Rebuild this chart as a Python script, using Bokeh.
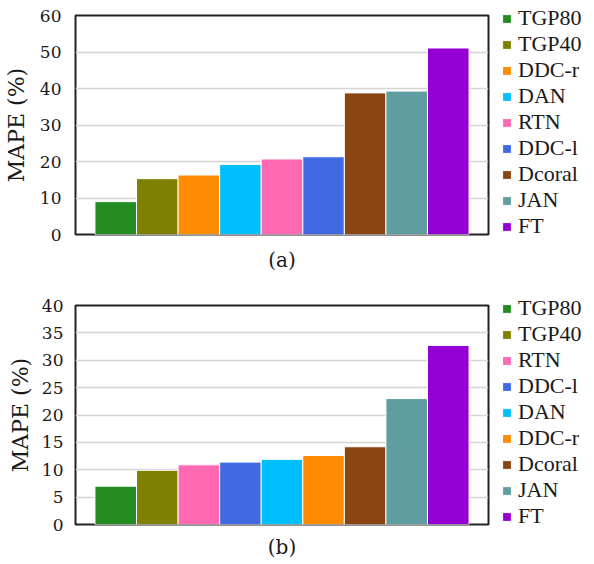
from bokeh.plotting import figure
from bokeh.models import (Range1d, FactorRange, SingleIntervalTicker, Legend, LegendItem,
                          Title, ColumnDataSource)
from bokeh.layouts import column
from bokeh.embed import file_html
from bokeh.resources import INLINE

# ---- data ----
methods_a = ["TGP80", "TGP40", "DDC-r", "DAN", "RTN", "DDC-l", "Dcoral", "JAN", "FT"]
mape_a = [9.0, 15.3, 16.3, 19.2, 20.7, 21.3, 38.8, 39.3, 51.1]

methods_b = ["TGP80", "TGP40", "RTN", "DDC-l", "DAN", "DDC-r", "Dcoral", "JAN", "FT"]
mape_b = [7.0, 9.9, 10.9, 11.4, 11.9, 12.6, 14.2, 23.0, 32.7]

method_colors = {
    "TGP80": "#228B22", "TGP40": "#808000", "DDC-r": "#FF8C00", "DAN": "#00BFFF",
    "RTN": "#FF69B4", "DDC-l": "#4169E1", "Dcoral": "#8B4513", "JAN": "#5F9EA0",
    "FT": "#9400D3",
}

FONT = "DejaVu Serif"
LEG_FONT = "serif"
TXT = "#1a1a1a"
W = 594


def make_panel(methods, values, ymax, yint, caption, border_left, border_top, height,
               label_standoff, cap_standoff, frame_w=413, frame_h=219):
    p = figure(frame_width=frame_w, frame_height=frame_h,
               output_backend="svg", toolbar_location=None,
               x_range=FactorRange(*methods, range_padding=0.468, range_padding_units="absolute"),
               y_range=Range1d(0, ymax), x_axis_location=None,
               min_border_left=border_left, min_border_top=border_top,
               min_border_right=W - border_left - frame_w,
               min_border_bottom=height - border_top - frame_h)
    p.outline_line_color = "#222222"
    p.outline_line_width = 2
    p.background_fill_color = "white"
    p.border_fill_color = "white"
    p.xgrid.grid_line_color = None
    p.ygrid.grid_line_color = "#d4d4d4"
    p.ygrid.grid_line_width = 1.3

    ax = p.yaxis[0]
    ax.ticker = SingleIntervalTicker(interval=yint)
    ax.axis_line_color = None
    ax.major_tick_line_color = None
    ax.minor_tick_line_color = None
    ax.major_label_standoff = label_standoff
    ax.major_label_text_font = FONT
    ax.major_label_text_font_size = "17px"
    ax.major_label_text_color = TXT
    ax.axis_label = "MAPE (%)"
    ax.axis_label_text_font = FONT
    ax.axis_label_text_font_size = "22px"
    ax.axis_label_text_font_style = "normal"
    ax.axis_label_text_color = TXT
    ax.axis_label_standoff = label_standoff

    src = ColumnDataSource(dict(m=methods, v=values, c=[method_colors[m] for m in methods]))
    r = p.vbar(x="m", top="v", width=1.0, source=src, fill_color="c",
               line_color="white", line_width=1)

    items = [LegendItem(label=m, renderers=[r], index=i) for i, m in enumerate(methods)]
    leg = Legend(items=items, location=(13, -5), padding=0, margin=0, spacing=0,
                 glyph_width=11, glyph_height=11, label_height=26, label_standoff=6,
                 label_text_font=LEG_FONT, label_text_font_size="22px", label_text_color=TXT,
                 background_fill_alpha=0, border_line_color=None)
    p.add_layout(leg, "right")

    t = Title(text=caption, align="center", text_font=FONT, text_font_size="20px",
              text_font_style="normal", text_color=TXT, standoff=cap_standoff)
    p.add_layout(t, "below")
    return p


pa = make_panel(methods_a, mape_a, 60, 10, "(a)", 74, 15, 282, 8, 23)
pb = make_panel(methods_b, mape_b, 40, 5, "(b)", 70, 22, 282, 6, 17)

layout = column(pa, pb, spacing=0)
open("out.html", "w").write(file_html(layout, INLINE))
